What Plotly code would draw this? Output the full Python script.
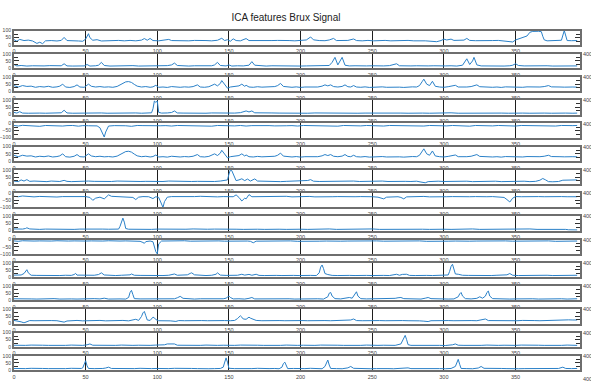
import plotly.graph_objects as go

TITLE = "ICA features Brux Signal"
X_TICKS = [0, 50, 100, 150, 200, 250, 300, 350]
X_TICK_LABELS = ["0", "50", "100", "150", "200", "250", "300", "350"]
X_END_LABEL = 400
X_RANGE = [0, 395]

R01 = [[0,37],[2,25],[4,38],[7,30],[10,33],[13,27],[16,10],[18,18],[20,8],[22,28],[26,30],[30,27],[33,31],[35,52],[37,30],[41,31],[45,27],[48,25],[50,40],[52,78],[53,50],[55,32],[58,36],[61,27],[65,30],[69,28],[73,31],[77,28],[81,31],[85,28],[89,33],[91,44],[93,32],[95,45],[97,30],[101,28],[105,31],[108,38],[110,30],[114,28],[118,31],[122,28],[126,31],[130,28],[134,30],[138,28],[142,32],[145,46],[147,30],[149,36],[151,25],[153,42],[155,30],[158,28],[162,44],[164,30],[168,29],[172,31],[176,27],[180,30],[184,31],[188,28],[192,30],[196,28],[200,29],[204,34],[207,55],[209,35],[213,30],[217,29],[220,34],[223,45],[225,30],[229,29],[233,31],[237,41],[239,30],[243,28],[247,31],[251,28],[255,30],[259,31],[263,28],[267,30],[271,29],[275,31],[279,28],[283,30],[287,28],[291,25],[295,22],[298,30],[300,40],[302,34],[305,40],[307,31],[311,30],[314,33],[316,45],[318,31],[322,29],[326,31],[330,28],[334,30],[338,31],[342,28],[345,25],[348,20],[350,34],[353,44],[356,55],[358,62],[360,88],[362,94],[366,95],[368,92],[369,60],[370,35],[372,28],[376,30],[380,30],[382,32],[384,100],[386,30],[389,29],[393,30]]

R02 = [[0,25],[2,15],[5,18],[9,14],[13,16],[17,13],[21,15],[25,17],[29,14],[33,16],[35,30],[37,15],[41,14],[45,16],[49,15],[51,25],[53,14],[57,16],[59,20],[61,40],[63,18],[67,14],[71,16],[75,13],[79,15],[83,17],[87,14],[91,15],[95,16],[99,14],[103,15],[107,17],[110,22],[112,35],[114,18],[118,15],[122,14],[126,16],[130,15],[134,13],[138,16],[140,22],[142,40],[144,18],[148,15],[150,22],[152,14],[156,16],[160,15],[164,20],[166,45],[168,20],[172,15],[176,14],[180,16],[184,15],[188,13],[192,15],[196,16],[200,14],[204,15],[208,16],[212,14],[216,15],[220,18],[222,40],[224,75],[226,22],[228,55],[229,75],[231,20],[234,15],[238,16],[242,14],[246,15],[250,16],[254,14],[258,15],[262,17],[265,22],[267,30],[269,16],[273,14],[277,15],[281,16],[285,14],[289,15],[293,16],[297,14],[301,15],[305,16],[309,14],[313,20],[315,50],[316,65],[318,25],[320,50],[321,75],[323,22],[326,15],[330,14],[334,16],[338,15],[342,14],[346,16],[348,20],[350,30],[352,18],[356,15],[360,16],[364,14],[368,15],[372,16],[376,14],[380,15],[384,16],[388,14],[393,15]]

R03 = [[0,40],[3,30],[6,40],[9,34],[12,36],[15,28],[18,33],[21,30],[24,35],[27,28],[30,31],[32,36],[34,50],[36,30],[39,27],[42,33],[44,45],[46,30],[49,28],[52,50],[54,35],[57,30],[60,33],[63,29],[66,31],[69,28],[72,34],[74,45],[76,55],[78,66],[80,68],[82,62],[84,48],[86,36],[89,30],[92,33],[95,28],[97,31],[99,42],[101,28],[104,30],[107,27],[110,33],[113,30],[116,28],[119,31],[122,29],[125,33],[128,45],[130,30],[133,28],[136,32],[138,40],[140,50],[142,38],[144,55],[145,75],[147,45],[149,22],[151,30],[154,33],[157,38],[159,50],[161,35],[162,42],[164,30],[167,28],[170,32],[173,29],[176,31],[179,28],[182,33],[184,40],[186,55],[188,34],[191,30],[194,28],[197,31],[200,27],[203,30],[206,29],[209,32],[212,30],[215,36],[217,45],[219,38],[221,45],[223,33],[226,30],[229,34],[231,45],[233,32],[235,30],[237,40],[239,30],[242,28],[245,31],[248,27],[251,30],[254,29],[257,31],[260,28],[263,30],[266,32],[269,29],[272,27],[275,30],[278,31],[281,30],[283,40],[285,70],[286,85],[288,50],[290,40],[292,70],[294,35],[297,30],[300,28],[303,32],[306,36],[308,42],[310,30],[313,28],[316,30],[319,33],[321,38],[323,45],[325,32],[328,29],[331,31],[334,28],[337,30],[340,27],[343,31],[346,29],[349,27],[352,30],[355,28],[358,31],[361,29],[364,32],[367,30],[370,33],[373,40],[375,31],[378,28],[381,30],[384,29],[387,27],[390,30],[393,29]]

R04 = [[0,15],[2,10],[4,20],[6,10],[10,9],[14,11],[18,10],[22,9],[26,11],[30,10],[33,12],[35,30],[37,11],[41,9],[45,10],[49,11],[53,9],[57,10],[61,11],[65,9],[69,10],[73,11],[77,9],[81,10],[85,11],[89,9],[93,10],[96,12],[97,40],[98,95],[99,85],[100,95],[101,15],[103,10],[107,11],[110,14],[112,25],[114,11],[118,10],[122,9],[126,11],[130,10],[134,9],[138,11],[142,10],[146,9],[150,11],[154,10],[158,13],[160,20],[162,25],[164,18],[166,25],[168,12],[172,10],[176,9],[180,11],[185,10],[190,9],[195,11],[200,10],[205,9],[210,11],[215,10],[220,12],[225,9],[230,10],[235,11],[240,9],[245,10],[250,11],[255,9],[260,10],[265,11],[270,10],[275,9],[280,11],[285,10],[290,9],[295,11],[300,10],[305,12],[310,9],[315,10],[320,11],[325,9],[330,10],[335,11],[340,10],[345,9],[350,11],[355,10],[360,9],[365,11],[370,10],[375,9],[380,11],[385,10],[390,9],[393,10]]

R05 = [[0,-14],[3,-18],[6,-13],[10,-16],[14,-15],[18,-20],[22,-14],[26,-16],[30,-13],[34,-18],[37,-15],[41,-14],[45,-19],[48,-15],[52,-16],[55,-14],[58,-17],[60,-30],[62,-80],[63,-95],[64,-60],[66,-18],[70,-15],[74,-14],[78,-16],[82,-20],[86,-14],[90,-15],[94,-17],[98,-14],[102,-16],[106,-15],[110,-18],[114,-14],[118,-15],[122,-17],[126,-14],[130,-16],[134,-15],[138,-19],[142,-14],[146,-16],[150,-15],[154,-17],[158,-14],[162,-18],[166,-15],[170,-14],[174,-16],[178,-15],[182,-17],[186,-14],[190,-16],[194,-15],[198,-18],[202,-14],[206,-15],[210,-17],[214,-14],[218,-16],[222,-15],[226,-19],[230,-14],[234,-16],[238,-15],[242,-17],[246,-14],[250,-16],[254,-15],[258,-18],[262,-14],[266,-15],[270,-17],[274,-14],[278,-16],[282,-15],[286,-18],[290,-14],[294,-16],[298,-15],[302,-17],[306,-14],[310,-16],[314,-15],[318,-19],[322,-14],[326,-16],[330,-15],[334,-17],[338,-14],[342,-16],[346,-15],[350,-18],[354,-14],[358,-15],[362,-17],[366,-14],[370,-16],[374,-15],[378,-18],[382,-14],[386,-16],[390,-15],[393,-14]]

# row 6 reads identical to row 3 in the picture
R06 = [p[:] for p in R03]

R07 = [[0,22],[3,18],[5,30],[7,22],[9,32],[11,20],[14,22],[17,19],[20,21],[23,18],[26,22],[29,20],[32,19],[35,27],[37,20],[40,18],[44,21],[48,19],[52,22],[56,20],[60,18],[64,21],[68,19],[72,22],[76,20],[80,18],[84,21],[88,19],[92,20],[96,18],[100,21],[104,19],[108,22],[112,20],[116,18],[120,21],[124,19],[128,20],[132,18],[136,21],[140,19],[144,22],[147,24],[149,30],[150,70],[151,100],[152,95],[153,70],[155,25],[157,30],[159,38],[161,25],[163,36],[165,22],[168,37],[170,22],[174,20],[178,19],[182,21],[186,18],[190,20],[194,22],[198,19],[202,21],[205,26],[207,32],[209,21],[213,19],[217,20],[221,18],[225,21],[229,19],[233,20],[237,22],[241,19],[245,21],[249,18],[253,20],[257,22],[261,19],[265,21],[269,18],[273,20],[277,19],[281,21],[284,15],[287,10],[289,18],[292,20],[296,21],[300,19],[304,20],[308,22],[312,19],[316,21],[320,18],[324,20],[328,22],[332,19],[336,21],[340,18],[344,20],[348,22],[352,19],[356,21],[360,18],[364,20],[367,28],[369,40],[371,30],[373,18],[376,17],[380,19],[383,28],[386,30],[390,29],[393,30]]

R08 = [[0,-22],[3,-25],[6,-20],[10,-24],[14,-26],[18,-23],[22,-25],[26,-22],[30,-27],[34,-24],[38,-23],[42,-25],[46,-22],[50,-24],[53,-30],[55,-50],[57,-35],[60,-28],[63,-40],[65,-20],[66,-12],[68,-22],[72,-25],[76,-23],[80,-26],[83,-30],[85,-45],[87,-28],[90,-24],[94,-25],[97,-38],[99,-25],[101,-30],[103,-80],[104,-100],[105,-60],[107,-28],[110,-24],[114,-25],[118,-23],[122,-26],[126,-24],[130,-22],[134,-25],[138,-23],[142,-26],[146,-24],[150,-22],[153,-25],[155,-12],[157,-30],[159,-55],[161,-35],[162,-40],[164,-10],[166,-25],[170,-24],[174,-26],[178,-23],[182,-25],[186,-24],[190,-22],[194,-26],[198,-24],[202,-25],[206,-23],[210,-26],[214,-24],[218,-22],[222,-25],[226,-24],[230,-26],[234,-23],[238,-25],[242,-24],[246,-22],[250,-25],[254,-28],[256,-32],[258,-40],[260,-28],[264,-24],[268,-25],[270,-30],[272,-40],[274,-26],[278,-24],[282,-25],[286,-23],[290,-26],[294,-24],[298,-22],[302,-25],[306,-24],[310,-26],[314,-23],[318,-25],[322,-24],[326,-22],[330,-25],[334,-24],[338,-26],[342,-30],[344,-45],[346,-62],[348,-35],[350,-24],[354,-25],[358,-23],[362,-26],[366,-24],[370,-25],[374,-23],[378,-26],[382,-24],[386,-25],[390,-24],[393,-25]]

R09 = [[0,12],[3,9],[6,11],[8,15],[9,20],[11,12],[14,10],[18,9],[22,11],[26,10],[30,9],[34,11],[38,10],[42,9],[46,11],[50,12],[54,10],[58,9],[62,11],[66,10],[70,9],[73,11],[74,30],[75,65],[76,88],[77,60],[78,15],[80,10],[84,9],[88,11],[92,10],[96,9],[100,11],[105,10],[110,9],[115,11],[120,10],[125,12],[130,9],[135,10],[140,11],[145,9],[150,12],[155,10],[160,9],[165,11],[170,10],[175,9],[180,11],[185,10],[190,9],[195,11],[200,10],[205,9],[210,11],[215,10],[220,12],[225,9],[230,10],[235,11],[240,9],[245,10],[250,12],[255,9],[260,10],[265,11],[270,10],[275,9],[280,11],[285,10],[290,9],[295,11],[300,10],[305,9],[310,11],[315,10],[320,12],[325,9],[330,10],[335,11],[340,10],[345,9],[350,11],[355,10],[360,12],[365,9],[370,10],[375,11],[380,10],[385,9],[387,6],[390,4],[393,5]]

R10 = [[0,-9],[3,-12],[6,-8],[10,-11],[14,-10],[18,-9],[22,-12],[26,-10],[30,-8],[34,-11],[38,-10],[42,-9],[46,-12],[50,-10],[54,-9],[58,-11],[62,-10],[66,-8],[70,-11],[74,-10],[78,-9],[82,-12],[86,-10],[88,-12],[90,-20],[91,-26],[92,-14],[95,-10],[97,-15],[98,-50],[99,-85],[100,-100],[101,-30],[103,-10],[107,-9],[111,-11],[115,-10],[119,-8],[123,-11],[127,-10],[131,-9],[135,-12],[139,-10],[143,-9],[147,-11],[151,-10],[155,-8],[159,-11],[163,-10],[165,-12],[167,-22],[169,-11],[173,-10],[178,-9],[183,-11],[188,-10],[193,-9],[198,-12],[203,-10],[208,-9],[213,-11],[218,-10],[223,-8],[228,-11],[233,-10],[238,-9],[243,-12],[248,-10],[253,-9],[258,-11],[263,-10],[268,-8],[273,-11],[278,-10],[283,-9],[288,-12],[293,-10],[298,-9],[303,-11],[308,-10],[313,-8],[318,-11],[323,-10],[328,-9],[333,-12],[338,-10],[343,-9],[348,-11],[353,-10],[358,-8],[363,-11],[368,-10],[373,-9],[378,-12],[383,-10],[388,-9],[393,-10]]

R11 = [[0,14],[3,12],[5,15],[7,25],[8,40],[9,52],[10,30],[12,13],[16,12],[20,11],[24,13],[28,12],[32,11],[36,13],[40,12],[42,18],[43,26],[44,14],[48,12],[52,11],[56,13],[59,18],[61,30],[63,15],[67,12],[71,11],[75,13],[79,12],[81,16],[82,22],[84,13],[88,12],[92,11],[96,13],[100,12],[104,11],[108,13],[111,18],[112,22],[114,13],[118,12],[121,16],[123,26],[124,30],[126,16],[130,12],[134,11],[138,13],[141,20],[142,30],[144,14],[148,12],[152,11],[156,13],[159,20],[161,14],[164,19],[166,13],[169,20],[171,12],[175,11],[179,13],[183,12],[187,11],[191,13],[195,12],[199,11],[203,13],[207,12],[211,11],[213,30],[214,70],[215,85],[216,60],[217,25],[219,18],[222,12],[226,11],[230,13],[234,12],[238,11],[242,13],[246,12],[250,11],[254,13],[258,12],[262,11],[265,18],[267,20],[269,13],[271,19],[274,20],[276,12],[280,11],[284,13],[288,12],[292,11],[296,13],[300,12],[303,15],[304,40],[305,75],[306,90],[307,55],[308,22],[310,20],[313,13],[317,12],[321,11],[325,13],[329,12],[333,11],[337,13],[341,12],[344,16],[346,25],[348,13],[352,11],[356,12],[360,13],[364,11],[368,12],[372,13],[376,11],[380,12],[384,13],[388,12],[393,13]]

R12 = [[0,11],[4,9],[8,12],[12,10],[16,9],[20,11],[24,10],[28,12],[32,9],[36,11],[40,10],[44,9],[48,11],[52,10],[56,12],[60,10],[63,15],[66,9],[70,11],[74,10],[78,9],[80,20],[81,55],[82,70],[83,40],[84,12],[88,10],[92,11],[96,9],[100,10],[104,12],[108,10],[112,11],[114,18],[116,28],[118,14],[122,10],[126,9],[130,11],[134,10],[138,12],[142,9],[146,11],[148,15],[150,30],[151,20],[153,10],[157,11],[161,9],[164,14],[166,20],[168,10],[172,11],[176,9],[180,10],[184,12],[188,10],[192,11],[196,9],[200,10],[204,12],[208,10],[212,11],[216,9],[219,25],[220,50],[221,55],[222,30],[224,12],[228,10],[232,14],[234,20],[236,15],[238,45],[239,60],[240,30],[242,12],[246,10],[250,11],[254,9],[258,10],[262,12],[266,14],[268,18],[270,20],[272,12],[276,10],[280,11],[284,9],[287,15],[289,20],[291,12],[295,10],[299,11],[303,9],[307,10],[310,25],[311,45],[312,55],[313,30],[315,12],[319,10],[323,14],[325,25],[327,15],[329,30],[330,55],[331,65],[332,30],[334,12],[338,10],[342,11],[346,9],[350,10],[354,12],[358,10],[362,11],[366,9],[370,10],[374,12],[378,10],[382,11],[386,9],[390,10],[393,11]]

R13 = [[0,22],[3,19],[5,12],[7,5],[9,15],[11,21],[14,20],[18,22],[22,19],[26,21],[30,20],[33,15],[35,10],[37,18],[40,20],[44,22],[48,19],[52,21],[56,20],[60,22],[64,19],[68,21],[72,20],[76,22],[80,19],[83,25],[85,30],[87,22],[89,50],[90,75],[91,85],[92,55],[93,25],[95,22],[97,45],[98,40],[99,28],[101,20],[105,22],[109,19],[113,15],[115,21],[119,20],[123,22],[127,19],[131,21],[135,20],[139,22],[143,19],[147,21],[151,20],[154,22],[156,35],[158,55],[159,45],[160,32],[162,30],[163,40],[164,45],[165,38],[167,30],[169,22],[173,20],[177,22],[181,19],[185,21],[189,20],[193,22],[197,19],[201,21],[205,20],[209,22],[213,19],[217,21],[221,20],[225,22],[229,19],[233,21],[235,25],[237,32],[239,21],[243,20],[247,22],[251,19],[255,21],[259,20],[263,22],[267,19],[271,21],[275,20],[279,22],[283,19],[286,17],[289,14],[291,20],[295,22],[299,19],[303,21],[307,20],[311,22],[315,19],[319,21],[323,20],[327,25],[329,32],[331,21],[335,20],[339,22],[343,19],[347,21],[351,20],[355,22],[359,19],[363,21],[367,20],[371,22],[375,19],[379,24],[383,25],[387,26],[390,25],[393,25]]

R14 = [[0,11],[4,9],[8,10],[12,12],[16,9],[20,11],[24,10],[28,9],[32,11],[36,10],[40,12],[44,9],[48,10],[51,14],[53,20],[55,11],[59,10],[63,9],[67,11],[71,10],[75,12],[79,9],[83,10],[87,11],[91,9],[95,10],[99,12],[103,10],[105,14],[107,20],[110,18],[112,20],[114,11],[118,10],[122,9],[126,11],[130,10],[134,12],[138,9],[142,10],[146,11],[150,9],[154,10],[158,12],[162,10],[166,9],[170,11],[174,10],[178,9],[182,11],[186,10],[190,12],[194,9],[198,10],[202,11],[206,9],[210,10],[214,12],[218,10],[222,9],[226,11],[230,10],[234,9],[238,11],[242,10],[246,12],[250,9],[254,10],[258,11],[262,9],[266,10],[270,20],[272,60],[273,80],[274,50],[275,15],[277,10],[281,11],[285,9],[289,10],[293,12],[297,10],[301,9],[304,11],[306,14],[308,20],[310,11],[314,10],[318,9],[322,11],[326,10],[330,12],[334,9],[338,10],[342,11],[346,9],[350,10],[354,12],[358,10],[362,9],[366,11],[370,10],[374,9],[378,11],[382,10],[386,12],[390,9],[393,10]]

R15 = [[0,11],[4,9],[8,10],[12,12],[16,9],[20,11],[24,10],[28,9],[32,11],[36,10],[40,12],[44,9],[47,11],[48,15],[49,40],[50,65],[51,30],[52,11],[56,10],[60,9],[62,11],[64,14],[66,20],[68,11],[72,10],[76,9],[80,11],[84,10],[88,12],[92,9],[96,10],[100,11],[104,9],[108,10],[112,12],[116,10],[120,9],[124,11],[128,10],[132,12],[136,9],[140,10],[144,11],[146,20],[147,60],[148,85],[149,55],[150,12],[154,10],[158,9],[162,11],[166,10],[170,12],[174,9],[178,10],[182,11],[185,9],[187,20],[188,45],[189,55],[190,25],[191,10],[195,11],[199,9],[203,10],[207,12],[211,10],[215,9],[217,25],[218,55],[219,70],[220,35],[221,11],[225,10],[229,9],[233,15],[235,25],[237,12],[241,10],[245,11],[249,9],[253,10],[257,12],[261,10],[265,9],[269,11],[273,12],[275,15],[277,10],[281,11],[285,9],[289,10],[293,12],[297,10],[301,9],[305,11],[308,25],[309,55],[310,75],[311,40],[312,11],[316,10],[320,9],[324,14],[326,25],[328,12],[332,10],[336,9],[340,11],[344,10],[348,12],[352,9],[356,10],[360,11],[364,9],[368,10],[372,12],[376,10],[380,11],[383,20],[385,11],[389,10],[393,11]]

ROWS = [R01, R02, R03, R04, R05, R06, R07, R08, R09, R10, R11, R12, R13, R14, R15]

W, H = 591, 381
LEFT_PX, RIGHT_PX = 12, 580
TOP0_PX, STEP_PX, PANEL_PX = 28, 23.6, 14.5
LINE_COLOR = "#2a80c8"
FRAME_COLOR = "#6e6e6e"
GRID_COLOR = "#1e1e1e"
LABEL_COLOR = "#444444"

fig = go.Figure()
annotations = []
for i, row in enumerate(ROWS):
    k = i + 1
    sfx = "" if k == 1 else str(k)
    xs = [p[0] for p in row]
    ys = [p[1] for p in row]
    negative = min(ys) < 0
    fig.add_trace(go.Scatter(
        x=xs, y=ys, mode="lines",
        line=dict(color=LINE_COLOR, width=1.0),
        xaxis=f"x{sfx}", yaxis=f"y{sfx}", showlegend=False, hoverinfo="skip",
    ))
    top = TOP0_PX + STEP_PX * i
    bot = top + PANEL_PX
    ydom = [1 - bot / H, 1 - top / H]
    fig.layout[f"xaxis{sfx}"] = dict(
        domain=[LEFT_PX / W, RIGHT_PX / W], range=X_RANGE, anchor=f"y{sfx}",
        tickmode="array", tickvals=X_TICKS, ticktext=X_TICK_LABELS,
        tickfont=dict(size=5.5, color=LABEL_COLOR, family="Liberation Sans"),
        showgrid=True, gridcolor=GRID_COLOR, gridwidth=1,
        showline=True, linecolor=FRAME_COLOR, linewidth=2, mirror=True,
        ticks="", zeroline=False, fixedrange=True, ticklabelstandoff=0,
    )
    yr = [-100, 0] if negative else [0, 100]
    fig.layout[f"yaxis{sfx}"] = dict(
        domain=ydom, range=yr, anchor=f"x{sfx}",
        dtick=50, tick0=0,
        ticks="inside", ticklen=5, tickwidth=1, tickcolor="#333333",
        minor=dict(dtick=25, ticks="inside", ticklen=4, tickcolor="#333333"),
        tickfont=dict(size=5, color=LABEL_COLOR, family="Liberation Sans"),
        showgrid=False, showline=True, linecolor=FRAME_COLOR, linewidth=2,
        mirror="ticks", zeroline=False, fixedrange=True,
    )
    # end label of the x axis, placed through the axis' own domain scale
    annotations.append(dict(
        x=(X_END_LABEL - X_RANGE[0]) / (X_RANGE[1] - X_RANGE[0]), xref=f"x{sfx} domain",
        y=0, yref=f"y{sfx} domain",
        text=str(X_END_LABEL), showarrow=False, yanchor="top", xanchor="center",
        yshift=-4, font=dict(size=5.5, color=LABEL_COLOR, family="Liberation Sans"),
    ))

fig.update_layout(
    width=W, height=H, margin=dict(l=0, r=0, t=0, b=0),
    paper_bgcolor="white", plot_bgcolor="white",
    title=dict(text=TITLE, x=286 / W, xanchor="center", y=1 - 17 / H, yanchor="middle",
               font=dict(size=10, color="#222222", family="Liberation Sans Narrow, Liberation Sans, sans-serif")),
    annotations=annotations,
)

fig.write_html("out.html")
